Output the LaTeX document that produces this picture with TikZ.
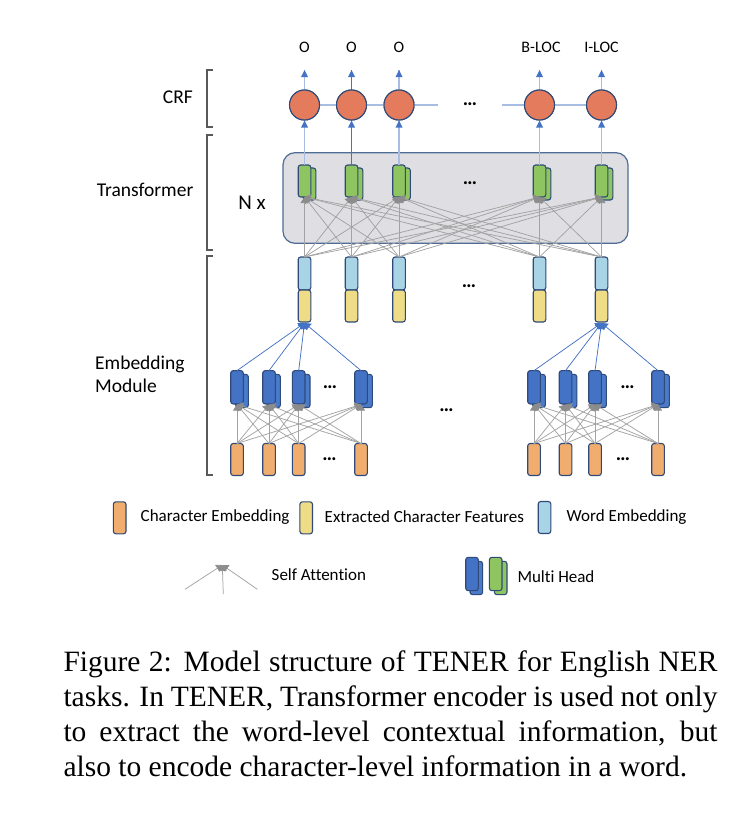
\documentclass[tikz,border=0pt]{standalone}
\usepackage{fontspec}
\setmainfont{Liberation Serif}
\newfontfamily\calfont[Ligatures=NoCommon]{Carlito}
\usetikzlibrary{arrows.meta}
\definecolor{navy}{HTML}{2F4A78}
\definecolor{circfill}{HTML}{E57B5D}
\definecolor{greenf}{HTML}{8FC560}
\definecolor{bluef}{HTML}{A8D4E6}
\definecolor{yellowf}{HTML}{EEDD86}
\definecolor{orangef}{HTML}{F0AD6E}
\definecolor{dblue}{HTML}{4472C4}
\definecolor{dbluek}{HTML}{4A7BCB}
\definecolor{boxgray}{HTML}{DFDFE3}
\definecolor{boxedge}{HTML}{4E6C95}
\definecolor{arrgray}{HTML}{A3A3A3}
\definecolor{tipgray}{HTML}{8C8C8C}
\definecolor{lightline}{HTML}{A9BDE3}
\definecolor{brk}{HTML}{595959}
\begin{document}
\begin{tikzpicture}[x=1pt,y=-1pt,font=\calfont,
  cell/.style={draw=navy,line width=1.1pt,rounded corners=2.5pt,minimum width=12.6pt,minimum height=32pt,inner sep=0pt,outer sep=0pt},
  wordcell/.style={cell,fill=bluef,minimum height=33pt},
  featcell/.style={cell,fill=yellowf},
  charcell/.style={cell,fill=orangef},
  greencell/.style={cell,fill=greenf},
  headcell/.style={cell,fill=dblue,draw=navy,minimum height=33.3pt},
  headback/.style={cell,fill=dbluek,draw=navy,minimum height=33.3pt},
  crfnode/.style={circle,draw=navy,line width=1.1pt,fill=circfill,minimum size=30pt,inner sep=0pt,outer sep=0pt},
  att/.style={draw=arrgray,line width=0.75pt,-{Triangle[width=8pt,length=6pt,color=tipgray]}},
  embarrow/.style={draw=dblue,line width=0.75pt,-{Triangle[width=8pt,length=6pt]}},
  uparrow/.style={line width=1.1pt,draw=lightline},
  bracket/.style={draw=brk,line width=2.8pt},
  lbl/.style={inner sep=0pt,font=\calfont\fontsize{19.5}{23}\selectfont},
  leg/.style={inner sep=0pt,anchor=west,font=\calfont\fontsize{17}{20}\selectfont},
  outlbl/.style={inner sep=0pt,font=\calfont\fontsize{16}{19}\selectfont},
  dotsl/.style={inner sep=0pt,font=\calfont\bfseries\fontsize{20}{22}\selectfont},
  capline/.style={anchor=base west,inner sep=0pt,font=\normalfont\fontsize{29.5}{35}\selectfont}]
\useasboundingbox (0,0) rectangle (752,819);

% ---------- brackets and side labels
\draw[bracket] (213,70) -- (207,70) -- (207,127) -- (213,127);
\draw[bracket] (213,135) -- (207,135) -- (207,250) -- (213,250);
\draw[bracket] (213,256) -- (207,256) -- (207,475) -- (213,475);
\node[lbl,anchor=east] (lcrf) at (193,97.5) {CRF};
\node[lbl,anchor=east] (ltr) at (193.5,189.5) {Transformer};
\node[lbl,anchor=west,align=left] (lemb) at (95,374.5) {Embedding\\Module};

% ---------- transformer box
\node[draw=boxedge,fill=boxgray,line width=1.2pt,rounded corners=12pt,minimum width=345pt,minimum height=90.6pt,inner sep=0pt] (tbox) at (455.5,198) {};
\node[inner sep=0pt,font=\calfont\fontsize{21}{24}\selectfont] (nx) at (252,203) {N x};

% ---------- columns
\foreach \i/\x in {1/304.5,2/351.5,3/399,4/539.5,5/601.5}{
  \node[wordcell] (wb\i) at (\x,273.5) {};
  \node[featcell] (yf\i) at (\x,306) {};
  \node[greencell] (gb\i) at (\x+5,184) {};
  \node[greencell] (g\i) at (\x,181) {};
  \node[crfnode] (c\i) at (\x,105) {};
  \coordinate (ta\i) at (\x,197);
  \coordinate (top\i) at (\x,70);
  \coordinate (et\i) at (\x,323);
}
% self attention (word level)
\foreach \j in {1,...,5}{
  \foreach \i in {1,...,5}{
    \draw[att] (wb\i.north) -- (ta\j);
  }
}
% up arrows to CRF and outputs
\foreach \i in {1,3,4,5}{
  \draw[uparrow] (g\i.north) -- (c\i.south);
  \draw[uparrow] (c\i.north) -- (top\i);
}
\draw[uparrow,draw=dblue] (g2.north) -- (c2.south);
\draw[uparrow,draw=dblue] (c2.north) -- (top2);
% blue arrow tips
\foreach \i in {1,...,5}{
  \fill[dblue] ([yshift=-0.5pt]c\i.south) -- ++(-3.5,7) -- ++(7,0) -- cycle;
  \fill[dblue] (top\i) -- ++(-3.5,7) -- ++(7,0) -- cycle;
}
% CRF chain
\coordinate (chA) at (438,105);
\coordinate (chB) at (502,105);
\draw[lightline,line width=1.2pt] (c1) -- (c2) -- (c3) -- (chA);
\draw[lightline,line width=1.2pt] (chB) -- (c4) -- (c5);
\foreach \i in {1,...,5}{
  \node[crfnode] (cc\i) at (c\i) {};
}
\node[dotsl] (dcrf) at (470,104) {\textellipsis};
\node[dotsl] (dtr) at (470,183) {\textellipsis};
\node[dotsl] (dwd) at (469,286) {\textellipsis};

% output labels
\node[outlbl] (o1) at (304.5,47) {O};
\node[outlbl] (o2) at (351.5,47) {O};
\node[outlbl] (o3) at (399,47) {O};
\node[outlbl] (o4) at (541,47) {B-LOC};
\node[outlbl] (o5) at (601.5,47) {I-LOC};

% ---------- character level groups
\foreach \g/\tgt/\a/\b/\c/\d in {L/1/237/269/298.7/361, R/5/534/565.5/595/658}{
  \foreach \k/\x in {1/\a,2/\b,3/\c,4/\d}{
    \node[charcell] (ch\g\k) at (\x,459.5) {};
    \node[headback] (hb\g\k) at (\x+5,391) {};
    \node[headcell] (h\g\k) at (\x,387.3) {};
    \coordinate (ca\g\k) at (\x,404.5);
  }
  \foreach \j in {1,...,4}{
    \foreach \k in {1,...,4}{
      \draw[att] (ch\g\k.north) -- (ca\g\j);
    }
  }
  \foreach \k in {1,...,4}{
    \draw[embarrow] (h\g\k.north) -- (et\tgt);
  }
}
\node[dotsl] (dl1) at (330,387) {\textellipsis};
\node[dotsl] (dl2) at (329.5,459) {\textellipsis};
\node[dotsl] (dr1) at (627.5,387) {\textellipsis};
\node[dotsl] (dr2) at (623,459) {\textellipsis};
\node[dotsl] (dmid) at (446.5,410) {\textellipsis};

% ---------- legend
\node[charcell] (lgo) at (119.7,517.8) {};
\node[leg] (lgot) at (140.5,517) {Character Embedding};
\node[featcell] (lgy) at (306.2,517.8) {};
\node[leg] (lgyt) at (324.5,517) {Extracted Character Features};
\node[wordcell,minimum height=32pt] (lgb) at (544.5,517.5) {};
\node[leg] (lgbt) at (566.5,517) {Word Embedding};

\coordinate (sa0) at (222.3,565);
\coordinate (sa1) at (185,589.3);
\coordinate (sa2) at (223.3,594);
\coordinate (sa3) at (257.3,589.3);
\foreach \k in {1,2,3}{ \draw[att] (sa\k) -- (sa0); }
\node[leg] (lgst) at (271.5,575) {Self Attention};

\node[headback] (lmb2) at (476.3,578) {};
\node[headcell] (lmb1) at (472,574) {};
\node[greencell,minimum height=33.3pt] (lmg2) at (500.7,578) {};
\node[greencell,minimum height=33.3pt] (lmg1) at (495.7,574) {};
\node[leg] (lmt) at (517.3,576.5) {Multi Head};

% ---------- caption
\node[capline] (cap1) at (63.3,671.7) {\hbox to 654pt{Figure 2: Model structure of TENER for English NER}};
\node[capline] (cap2) at (63.3,706.7) {\hbox to 654pt{tasks. In TENER, Transformer encoder is used not only}};
\node[capline] (cap3) at (63.3,741.7) {\hbox to 654pt{to extract the word-level contextual information, but}};
\node[capline] (cap4) at (63.3,776.7) {also to encode character-level information in a word.};
\end{tikzpicture}
\end{document}
